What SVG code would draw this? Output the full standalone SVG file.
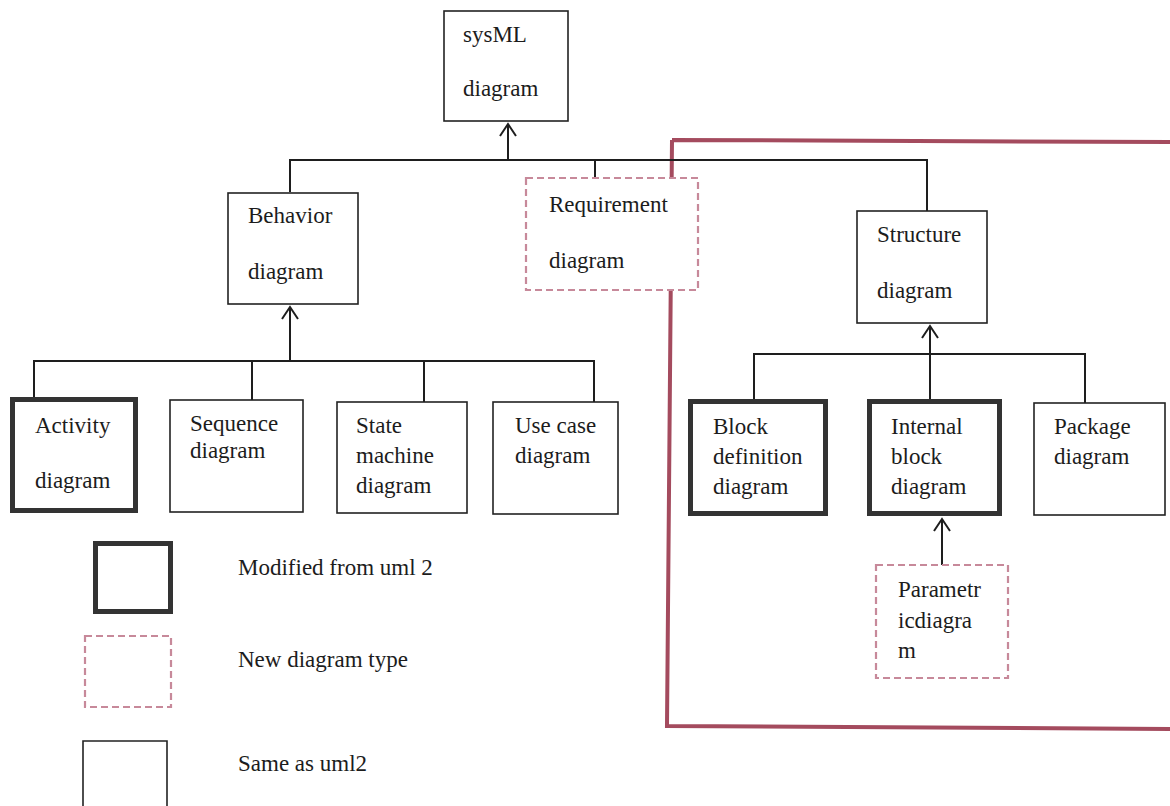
<svg xmlns="http://www.w3.org/2000/svg" width="1170" height="806" viewBox="0 0 1170 806">
  <style>
    text { font-family: "Liberation Serif", "Times New Roman", serif; font-size: 23px; fill: #1c1c1c; }
    .box { fill: #ffffff; stroke: #222222; stroke-width: 1.6; }
    .mod { fill: #ffffff; stroke: #333333; stroke-width: 5; }
    .new { fill: #ffffff; stroke: #c7899a; stroke-width: 2.2; stroke-dasharray: 7 4; }
    .wire { fill: none; stroke: #1e1e1e; stroke-width: 2; }
    .frame { fill: none; stroke: #a44b5e; stroke-width: 4; }
  </style>
  <defs>
    <!-- open V arrowhead; +x of the marker follows the line direction -->
    <marker id="open-arrow" viewBox="0 0 20 20" refX="18" refY="10" markerWidth="20" markerHeight="20" markerUnits="userSpaceOnUse" orient="auto">
      <path d="M6,2 L18,10 L6,18" fill="none" stroke="#1e1e1e" stroke-width="2"/>
    </marker>
  </defs>

  <rect width="1170" height="806" fill="#ffffff"/>

  <!-- SysML-specific region frame -->
  <path class="frame" d="M672,140 L1172,142 M672,140 L667,726 L1172,729"/>

  <!-- connectors -->
  <g id="connectors">
    <!-- top level -->
    <path class="wire" d="M290,192 V160 H927 V211"/>
    <path class="wire" d="M595,160 V178"/>
    <path class="wire" d="M508,160 V124" marker-end="url(#open-arrow)"/>
    <!-- behavior level -->
    <path class="wire" d="M34,398 V361 H594 V402"/>
    <path class="wire" d="M252,361 V400"/>
    <path class="wire" d="M424,361 V402"/>
    <path class="wire" d="M290,361 V307" marker-end="url(#open-arrow)"/>
    <!-- structure level -->
    <path class="wire" d="M754,399 V354 H1085 V403"/>
    <path class="wire" d="M930,399 V326" marker-end="url(#open-arrow)"/>
    <!-- parametric to internal block -->
    <path class="wire" d="M942,565 V519" marker-end="url(#open-arrow)"/>
  </g>

  <g id="sysml">
    <rect class="box" x="444" y="11" width="124" height="110"/>
    <text x="463" y="42">sysML</text>
    <text x="463" y="96">diagram</text>
  </g>

  <g id="behavior">
    <rect class="box" x="228" y="193" width="130" height="111"/>
    <text x="248" y="223">Behavior</text>
    <text x="248" y="279">diagram</text>
  </g>

  <g id="requirement">
    <rect class="new" x="526" y="178" width="172" height="112"/>
    <text x="549" y="212">Requirement</text>
    <text x="549" y="268">diagram</text>
  </g>

  <g id="structure">
    <rect class="box" x="857" y="211" width="130" height="112"/>
    <text x="877" y="242">Structure</text>
    <text x="877" y="298">diagram</text>
  </g>

  <g id="activity">
    <rect class="mod" x="12.5" y="399.5" width="123" height="111"/>
    <text x="35" y="433">Activity</text>
    <text x="35" y="488">diagram</text>
  </g>

  <g id="sequence">
    <rect class="box" x="170" y="400" width="133" height="112"/>
    <text x="190" y="431">Sequence</text>
    <text x="190" y="458">diagram</text>
  </g>

  <g id="state-machine">
    <rect class="box" x="337" y="402" width="130" height="111"/>
    <text x="356" y="433">State</text>
    <text x="356" y="463">machine</text>
    <text x="356" y="493">diagram</text>
  </g>

  <g id="use-case">
    <rect class="box" x="493" y="402" width="125" height="112"/>
    <text x="515" y="433">Use case</text>
    <text x="515" y="463">diagram</text>
  </g>

  <g id="block-definition">
    <rect class="mod" x="690.5" y="401.5" width="135" height="112"/>
    <text x="713" y="434">Block</text>
    <text x="713" y="464">definition</text>
    <text x="713" y="494">diagram</text>
  </g>

  <g id="internal-block">
    <rect class="mod" x="869.5" y="401.5" width="130" height="112"/>
    <text x="891" y="434">Internal</text>
    <text x="891" y="464">block</text>
    <text x="891" y="494">diagram</text>
  </g>

  <g id="package">
    <rect class="box" x="1034" y="403" width="131" height="112"/>
    <text x="1054" y="434">Package</text>
    <text x="1054" y="464">diagram</text>
  </g>

  <g id="parametric">
    <rect class="new" x="876" y="565" width="132" height="113"/>
    <text x="898" y="597">Parametr</text>
    <text x="898" y="628">icdiagra</text>
    <text x="898" y="658">m</text>
  </g>

  <!-- legend -->
  <g id="legend">
    <rect class="mod" x="95.5" y="543.5" width="75" height="68"/>
    <text x="238" y="575">Modified from uml 2</text>
    <rect class="new" x="85" y="636" width="86" height="71"/>
    <text x="238" y="667">New diagram type</text>
    <path class="box" d="M83,812 V741 H167 V812"/>
    <text x="238" y="771">Same as uml2</text>
  </g>
</svg>
